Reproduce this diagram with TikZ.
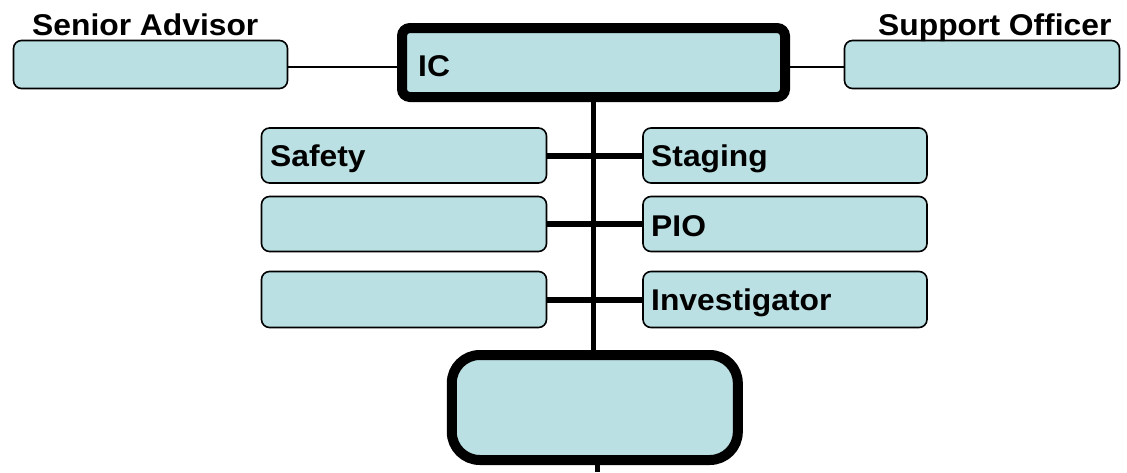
\documentclass[tikz,border=0pt]{standalone}
\usepackage{fontspec}
\newfontfamily\lblfont{Liberation Sans}[FakeStretch=1.06]
\definecolor{boxfill}{HTML}{BAE0E3}
\begin{document}
\begin{tikzpicture}[x=1pt,y=-1pt,
  thinbox/.style={draw=black,fill=boxfill,line width=1.6pt,rounded corners=8pt,inner sep=0pt,minimum width=#1},
  thickbox/.style={draw=black,fill=boxfill,line width=10pt,inner sep=0pt},
  lbl/.style={anchor=base west,inner sep=0pt,font=\lblfont\bfseries\fontsize{30}{30}\selectfont},
  thinlink/.style={line width=1.6pt},
  thicklink/.style={line width=6pt},
  spine/.style={line width=5.5pt}]
\useasboundingbox (0,0) rectangle (1127,472);
\coordinate (tail) at (597.5,472);
% boxes
\path (150.5,64.5) node[thinbox=274pt,minimum height=48pt] (sa) {};
\path (982,64.5) node[thinbox=275pt,minimum height=48pt] (so) {};
\path (593.5,62.5) node[thickbox,rounded corners=8pt,minimum width=383pt,minimum height=69pt] (ic) {};
\path (404,155.5) node[thinbox=285pt,minimum height=55pt] (safety) {};
\path (404,224) node[thinbox=285pt,minimum height=55pt] (left2) {};
\path (404,299.5) node[thinbox=285pt,minimum height=56pt] (left3) {};
\path (785,155.5) node[thinbox=284pt,minimum height=55pt] (staging) {};
\path (785,224) node[thinbox=284pt,minimum height=55pt] (pio) {};
\path (785,299.5) node[thinbox=284pt,minimum height=56pt] (inv) {};
\path (594.8,407.5) node[thickbox,rounded corners=28pt,minimum width=286pt,minimum height=105pt] (bb) {};
% connectors
\coordinate (saout) at ([yshift=-2.2pt]sa.east);
\coordinate (soin) at ([yshift=-2.2pt]so.west);
\draw[thinlink] (saout) -- (saout -| ic.west);
\draw[thinlink] (soin) -- (soin -| ic.east);
\draw[spine] (ic.south) -- (ic.south |- bb.north);
\draw[thicklink] (safety.east) -- (staging.west);
\draw[thicklink] (left2.east) -- (pio.west);
\draw[thicklink] (left3.east) -- (inv.west);
\draw[spine] (tail |- bb.south) -- (tail);
% labels
\node[lbl] (tsa) at (32,35) {Senior Advisor};
\node[lbl] (tso) at (878,35) {Support Officer};
\node[lbl] (tic) at (418,76) {IC};
\node[lbl] (tsafety) at (270,166.7) {Safety};
\node[lbl] (tstaging) at (651,166.7) {Staging};
\node[lbl] (tpio) at (651,236.7) {PIO};
\node[lbl] (tinv) at (651,310) {Investigator};
\end{tikzpicture}
\end{document}
